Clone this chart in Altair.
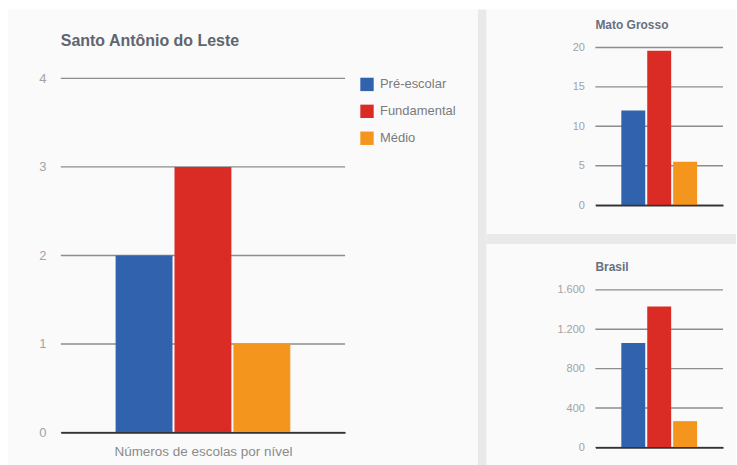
import altair as alt
import pandas as pd

# ---- data -------------------------------------------------------------
levels = ["Pré-escolar", "Fundamental", "Médio"]
colors = ["#3162ad", "#db2b25", "#f4951e"]

santo_values = [2, 3, 1]
mato_values = [12, 19.6, 5.5]
brasil_values = [1060, 1430, 267]

santo_ticks = [0, 1, 2, 3, 4]
mato_ticks = [0, 5, 10, 15, 20]
brasil_ticks = [0, 400, 800, 1200, 1600]

FONT = "Arial"
PANEL_FILL = "#fafafa"
BAND = "#e9e9e9"
GRID = "#8c8c8c"
color_scale = alt.Scale(domain=levels, range=colors)


def panel(values, ticks, ymax, width, pad_inner, pad_outer,
          label_size, label_padding, legend, x_title, label_expr=None):
    df = pd.DataFrame({"nivel": levels, "escolas": values})
    yaxis_kw = dict(values=ticks, title=None, grid=False, domain=False, ticks=False,
                    labelColor="#a3a3a3", labelFontSize=label_size,
                    labelPadding=label_padding, labelFont=FONT, zindex=1)
    if label_expr:
        yaxis_kw["labelExpr"] = label_expr
    xaxis_kw = dict(labels=False, ticks=False, domain=True, domainColor="#333333",
                    domainWidth=1.8, zindex=1, grid=False)
    if x_title:
        xaxis_kw.update(title=x_title, titleFont=FONT, titleFontSize=13.5,
                        titleFontWeight="normal", titleColor="#8a8a8a",
                        titlePadding=12)
    else:
        xaxis_kw["title"] = None
    color_kw = dict(scale=color_scale, sort=levels)
    if legend:
        color_kw["legend"] = alt.Legend(
            orient="none", legendX=300, legendY=30, title=None,
            symbolType="square", symbolSize=180, symbolStrokeWidth=0,
            labelFont=FONT, labelFontSize=13, labelColor="#7a7a7a",
            rowPadding=13, labelOffset=6)
    else:
        color_kw["legend"] = None
    yscale = alt.Scale(domain=[0, ymax], nice=False)
    grid = alt.Chart(pd.DataFrame({"escolas": ticks})).mark_rule(
        color=GRID, strokeWidth=1.4).encode(
        y=alt.Y("escolas:Q", scale=yscale, axis=alt.Axis(**yaxis_kw)),
        x=alt.value(0), x2=alt.value(width))
    bars = alt.Chart(df).mark_bar().encode(
        x=alt.X("nivel:N", sort=levels,
                scale=alt.Scale(paddingInner=pad_inner, paddingOuter=pad_outer),
                axis=alt.Axis(**xaxis_kw)),
        y=alt.Y("escolas:Q", scale=yscale, axis=alt.Axis(**yaxis_kw)),
        color=alt.Color("nivel:N", **color_kw),
    )
    return grid, bars


def card(x0, x1, y0, y1, fill=PANEL_FILL):
    # page decoration (panel cards and the grey bands between them),
    # given as offsets from the plot origin of the chart it belongs to
    return alt.Chart(pd.DataFrame({"k": [0]})).mark_rect(color=fill).encode(
        x=alt.value(x0), x2=alt.value(x1), y=alt.value(y0), y2=alt.value(y1))


def titled(layers, title, size, offset, color, width, height):
    return alt.layer(*layers).properties(
        width=width, height=height,
        title=alt.TitleParams(title, anchor="start", frame="group", font=FONT,
                              fontSize=size, fontWeight="bold", color=color,
                              offset=offset),
    )


g, b = panel(santo_values, santo_ticks, 4.349, 285, 0.034, 0.93, 13, 15, True,
             "Números de escolas por nível")
left = titled([card(-60, 677, -46, 419, "#ffffff"),
               card(418, 427, -38, 419, BAND),
               card(427, 677, 187, 197, BAND),
               card(-53, 418, -38, 419),
               g, b],
              "Santo Antônio do Leste", 16, -47, "#5e6470", 285, 386)

g, b = panel(mato_values, mato_ticks, 20, 128, 0.077, 1.0, 11, 11, False, None)
right_top = titled([card(-109, 141, -38, 187), g, b],
                   "Mato Grosso", 12, -22, "#687080", 128, 158)

g, b = panel(brasil_values, brasil_ticks, 1600, 128, 0.077, 1.0, 11, 11, False, None,
             label_expr="replace(format(datum.value, ','), ',', '.')")
right_bot = titled([card(-109, 141, -46, 176), g, b],
                   "Brasil", 12, -30, "#687080", 128, 158)

right = alt.vconcat(right_top, right_bot, spacing=85, bounds="flush")

chart = alt.hconcat(left, right, spacing=251, bounds="flush").properties(
    padding={"left": 0, "top": 0, "right": 0, "bottom": 0},
    background="#ffffff",
).configure_view(strokeWidth=0).configure(font=FONT)

chart.save("out.html", embed_options={"renderer": "svg", "actions": False})
